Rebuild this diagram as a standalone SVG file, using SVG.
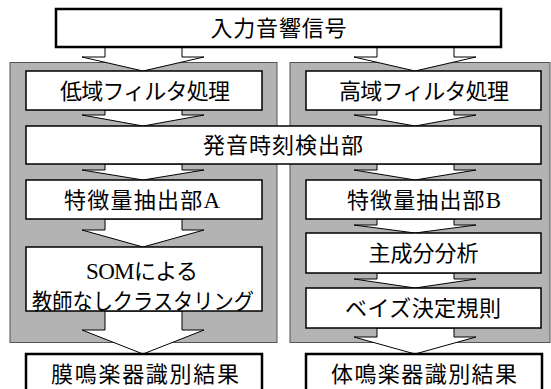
<svg xmlns="http://www.w3.org/2000/svg" width="551" height="389" viewBox="0 0 551 389">
<style>
.panel{fill:#b3b3b3;stroke:#555;stroke-width:1}
.box{fill:#fff;stroke:#000;stroke-width:1.5}
.tbox{fill:#fff;stroke:#000;stroke-width:2.5}
.arr{fill:#fff;stroke:#000;stroke-width:1;stroke-linejoin:miter}
text{font-family:"Noto Sans CJK JP","Noto Sans",sans-serif;font-size:22px;fill:#000;text-anchor:middle}
.lat{font-family:"Liberation Serif",serif;font-size:23px}
</style>
<rect width="551" height="389" fill="#fff"/>
<g id="panel-left"><rect class="panel" x="10" y="62.5" width="267" height="280"/></g>
<g id="panel-right"><rect class="panel" x="290" y="62.5" width="260" height="280"/></g>
<g id="connectors">
<polygon class="arr" points="105,46 182,46 182,57 204,57 143,71 82,57 105,57"/>
<polygon class="arr" points="377,46 454,46 454,57 476,57 415,71 354,57 377,57"/>
<polygon class="arr" points="105,110 182,110 182,115 204,115 143,126 82,115 105,115"/>
<polygon class="arr" points="377,110 454,110 454,115 476,115 415,126 354,115 377,115"/>
<polygon class="arr" points="105,164 182,164 182,170 204,170 143,180 82,170 105,170"/>
<polygon class="arr" points="377,164 454,164 454,170 476,170 415,180 354,170 377,170"/>
<polygon class="arr" points="105,219 182,219 182,230 204,230 143,247 82,230 105,230"/>
<polygon class="arr" points="377,219 454,219 454,225 476,225 415,233 354,225 377,225"/>
<polygon class="arr" points="377,273 454,273 454,279 476,279 415,288 354,279 377,279"/>
<polygon class="arr" points="105,311 182,311 182,330 204,330 143,354 82,330 105,330"/>
<polygon class="arr" points="377,328 454,328 454,337 476,337 415,354 354,337 377,337"/>
</g>
<g id="n-input"><rect class="tbox" x="56" y="9" width="445" height="38"/><text x="278.5" y="36" textLength="136" lengthAdjust="spacing">入力音響信号</text></g>
<g id="n-lowpass"><rect class="box" x="26" y="71" width="236" height="39"/><text x="145" y="98.5" textLength="170" lengthAdjust="spacing">低域フィルタ処理</text></g>
<g id="n-highpass"><rect class="box" x="306" y="71" width="235" height="39"/><text x="424" y="98.5" textLength="170" lengthAdjust="spacing">高域フィルタ処理</text></g>
<g id="n-onset"><rect class="box" x="26" y="126" width="515" height="38"/><text x="283" y="153" textLength="160" lengthAdjust="spacing">発音時刻検出部</text></g>
<g id="n-featA"><rect class="box" x="26" y="180" width="236" height="39"/><text x="142" y="207.5" textLength="156" lengthAdjust="spacing">特徴量抽出部<tspan class="lat">A</tspan></text></g>
<g id="n-featB"><rect class="box" x="306" y="180" width="235" height="39"/><text x="424" y="207.5" textLength="154" lengthAdjust="spacing">特徴量抽出部<tspan class="lat">B</tspan></text></g>
<g id="n-som"><rect class="box" x="26" y="247" width="236" height="64"/><text x="142" y="279" textLength="112" lengthAdjust="spacing"><tspan class="lat">SOM</tspan>による</text><text x="143" y="309" textLength="222" lengthAdjust="spacingAndGlyphs">教師なしクラスタリング</text></g>
<g id="n-pca"><rect class="box" x="306" y="233" width="235" height="40"/><text x="423.5" y="261" textLength="110" lengthAdjust="spacing">主成分分析</text></g>
<g id="n-bayes"><rect class="box" x="306" y="288" width="235" height="40"/><text x="423" y="316" textLength="156" lengthAdjust="spacing">ベイズ決定規則</text></g>
<g id="n-resultL"><rect class="tbox" x="26" y="354" width="236" height="40"/><text x="145" y="382" textLength="188" lengthAdjust="spacing">膜鳴楽器識別結果</text></g>
<g id="n-resultR"><rect class="tbox" x="306" y="354" width="236" height="40"/><text x="424" y="382" textLength="186" lengthAdjust="spacing">体鳴楽器識別結果</text></g>
</svg>
